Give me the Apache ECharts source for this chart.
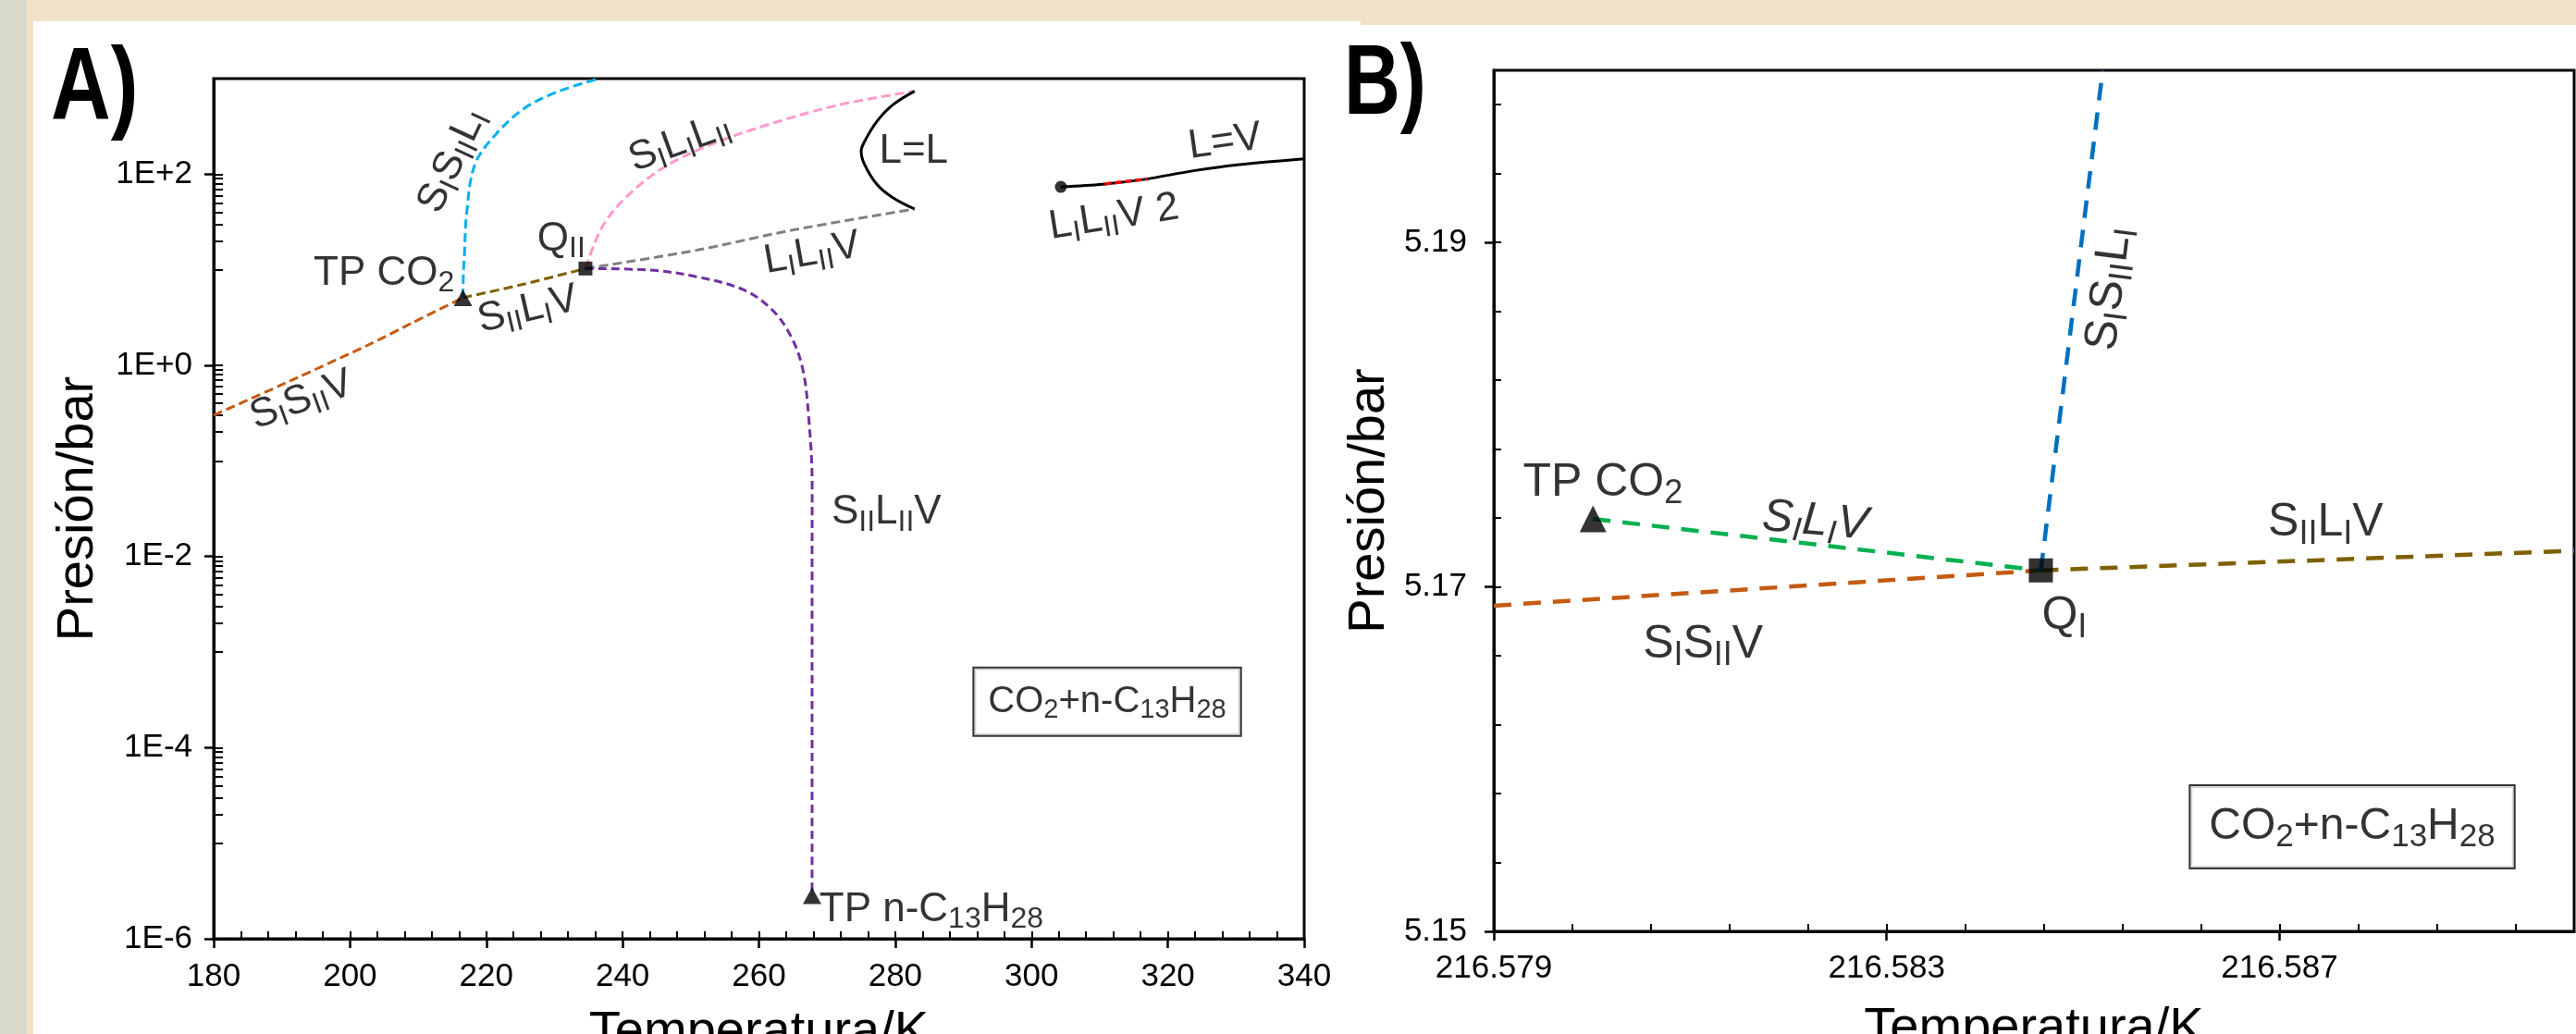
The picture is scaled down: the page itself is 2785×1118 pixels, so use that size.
<!DOCTYPE html>
<html lang="es">
<head>
<meta charset="utf-8">
<title>CO2 + n-C13H28 diagrama de fases</title>
<script src="https://cdn.jsdelivr.net/npm/echarts@6/dist/echarts.min.js"></script>
<style>
  html, body { margin: 0; padding: 0; background: #fff; overflow: hidden; }
  #wrap { position: relative; width: 2785px; height: 1118px; background: #fff; }
  .strip { position: absolute; }
  #chart { position: absolute; left: 0; top: 0; width: 2785px; height: 1118px; }
</style>
</head>
<body>
<div id="wrap">
  <div class="strip" style="left:0;top:0;width:1471px;height:23px;background:#f2e3c8"></div>
  <div class="strip" style="left:1471px;top:0;width:1314px;height:27px;background:#f2e3c8"></div>
  <div class="strip" style="left:0;top:0;width:36px;height:1118px;background:#f2e3c8"></div>
  <div class="strip" style="left:0;top:0;width:29px;height:1118px;background:#d8d9c8"></div>
  <div id="chart"></div>
</div>
<script>
/* Diagrama P-T de CO2 + n-C13H28.
 * A) vista global (presión en escala log), B) zoom alrededor del punto cuádruple Q_I.
 * Temperaturas en K, presiones en bar, leídas del diagrama original. */

const FONT = '"Liberation Sans", Arial, sans-serif';

// ── Panel A: curvas (T/K, P/bar) ──
const aSsvT  = [180.0, 191.1, 203.2, 209.2, 216.58];                 // S_I S_II V
const aSsvP  = [0.30, 0.68, 1.70, 2.80, 5.10];
const aSlvT  = [216.58, 225.6, 234.55];                               // S_II L_I V
const aSlvP  = [5.10, 7.10, 10.3];
const aSslT  = [216.58, 216.62, 216.80, 217.11, 218.32, 221.35, 225.60, 230.44, 236.49]; // S_I S_II L_I
const aSslP  = [5.10, 8.3, 14.8, 38.4, 126, 259, 490, 728, 1000];
const aSllT  = [234.55, 236.99, 240.46, 245.99, 252.93, 261.23, 271.61, 282.84]; // S_I L_I L_II
const aSllP  = [10.3, 27.9, 57.0, 117, 204, 328, 528, 738];
const aLlvT  = [234.55, 250.84, 264.68, 282.84];                      // L_I L_II V
const aLlvP  = [10.3, 16.0, 25.8, 43.2];
const aLeqLT = [282.84, 279.6, 277.3, 275.5, 275.0, 275.5, 277.3, 279.6, 282.84]; // L=L
const aLeqLP = [738, 528, 356, 220, 174, 126, 78.3, 57.0, 43.2];
const aS2lvT = [234.55, 243.91, 250.84, 257.77, 261.92, 264.69, 266.43, 267.32, 267.81, 267.80, 267.80, 267.80]; // S_II L_II V
const aS2lvP = [10.3, 9.93, 8.46, 6.15, 3.82, 2.02, 0.912, 0.277, 0.0564, 6.7e-3, 1.2e-4, 2.82e-6];
const aLeqVT = [304.30, 310.38, 316.63, 323.55, 330.47, 340.0];       // L=V
const aLeqVP = [73.6, 78.3, 88.4, 108, 126, 145];
const aLlv2T = [310.73, 316.96];                                      // L_I L_II V 2
const aLlv2P = [79.0, 89.0];

// puntos singulares A
const aTriT = [216.58, 267.80];   // TP CO2, TP n-C13H28
const aTriP = [5.10, 2.82e-6];
const aQuadT = [234.55];          // Q_II
const aQuadP = [10.3];
const aCritT = [304.30];          // punto crítico
const aCritP = [73.6];

// ejes A
const aTempTicks = [180, 200, 220, 240, 260, 280, 300, 320, 340];
const aPresExp   = [-6, -4, -2, 0, 2];   // 1E-6 ... 1E+2

// rótulos A
const aLabelText = ['S_{I}S_{II}L_{I}', 'TP CO_{2}', 'S_{II}L_{I}V', 'S_{I}S_{II}V', 'Q_{II}', 'S_{I}L_{I}L_{II}',
                    'L=L', 'L_{I}L_{II}V', 'L=V', 'L_{I}L_{II}V 2', 'S_{II}L_{II}V', 'TP n-C_{13}H_{28}'];
const aLabelT = [215.0, 205.0, 226.1, 192.9, 231.0, 248.4, 282.7, 267.8, 328.4, 312.1, 278.7, 285.3];
const aLabelP = [138, 9.16, 3.82, 0.43, 20.7, 212, 174, 14.8, 217, 35.4, 0.0287, 2.02e-6];
const aBoxT = 311.1, aBoxP = 3.02e-4;

// ── Panel B: zoom en Q_I ──
const bSsvT  = [216.5790, 216.58457];   // S_I S_II V
const bSsvP  = [5.16891, 5.17096];
const bSlvT  = [216.58001, 216.58457];  // S_I L_I V
const bSlvP  = [5.17395, 5.17096];
const bS2lvT = [216.58457, 216.5900];   // S_II L_I V
const bS2lvP = [5.17096, 5.17210];
const bSslT  = [216.58457, 216.58520];  // S_I S_II L_I
const bSslP  = [5.17096, 5.2000];

const bTriT = [216.58001], bTriP = [5.17395];    // TP CO2
const bQuadT = [216.58457], bQuadP = [5.17096];  // Q_I

const bTempTicks = [216.579, 216.583, 216.587];
const bPresTicks = [5.15, 5.17, 5.19];

const bLabelText = ['TP CO_{2}', 'S_{I}L_{I}V', 'S_{II}L_{I}V', 'S_{I}S_{II}V', 'Q_{I}', 'S_{I}S_{II}L_{I}'];
const bLabelT = [216.58011, 216.58227, 216.58747, 216.58113, 216.58481, 216.58527];
const bLabelP = [5.17605, 5.17380, 5.17370, 5.16662, 5.16828, 5.18732];
const bBoxT = 216.58774, bBoxP = 5.15607;

// ── helpers ──
const lg = Math.log10;
function ptsA(ts, ps) { return ts.map((t, i) => [t, lg(ps[i])]); }
function ptsB(ts, ps) { return ts.map((t, i) => [t, ps[i]]); }

// "S_{I}L_{I}V" → rich text con subíndices
function richText(s) {
  return s.split(/(_\{[^}]*\})/).filter(Boolean)
    .map((p) => p[0] === '_' ? '{s|' + p.slice(2, -1) + '}' : '{n|' + p + '}').join('');
}
function richStyles(F, italic) {
  const st = italic ? 'italic' : 'normal';
  return {
    n: { fontSize: F, lineHeight: Math.round(F * 1.2), fontFamily: FONT, color: '#000', fontStyle: st },
    s: { fontSize: Math.round(F * 0.72), lineHeight: Math.round(F * 0.68), fontFamily: FONT, color: '#000', fontStyle: st, verticalAlign: 'bottom' },
  };
}

function line(xi, data, color, width, dash, smooth) {
  return {
    type: 'line', xAxisIndex: xi, yAxisIndex: xi, data,
    showSymbol: false, symbol: 'none', smooth: smooth || false, silent: true, z: 3,
    lineStyle: { color, width, type: dash || 'solid', cap: 'butt' },
  };
}
function marker(xi, data, symbol, size) {
  return {
    type: 'scatter', xAxisIndex: xi, yAxisIndex: xi, data, symbol, symbolSize: size,
    itemStyle: { color: '#000' }, silent: true, z: 6,
  };
}
function labels(xi, pts, texts, rots, F, italics) {
  return {
    type: 'scatter', xAxisIndex: xi, yAxisIndex: xi, symbolSize: 1, silent: true, z: 10,
    itemStyle: { color: 'rgba(0,0,0,0)' },
    data: texts.map((t, i) => ({
      value: pts[i],
      label: {
        show: true, position: 'inside', rotate: rots[i],
        formatter: richText(t), rich: richStyles(F, italics && italics[i]),
      },
    })),
  };
}
function boxLabel(xi, pt, F, pad) {
  return {
    type: 'scatter', xAxisIndex: xi, yAxisIndex: xi, symbolSize: 1, silent: true, z: 10,
    itemStyle: { color: 'rgba(0,0,0,0)' },
    data: [{
      value: pt,
      label: {
        show: true, position: 'inside', formatter: richText('CO_{2}+n-C_{13}H_{28}'), rich: richStyles(F),
        backgroundColor: '#fff', borderColor: '#000', borderWidth: 2, padding: pad,
      },
    }],
  };
}

// ── ejes ──
const TICK = { color: '#000', width: 2.5 };
const LBL = { color: '#000', fontSize: 35, fontFamily: FONT };
const NAME = { color: '#000', fontSize: 56, fontFamily: FONT };

function majorAxis(grid, min, max, ticks, fmt, margin, name, gap) {
  return {
    type: 'value', gridIndex: grid, min, max,
    axisLine: { show: true, onZero: false, lineStyle: { color: '#000', width: 3 } },
    axisTick: { show: true, inside: false, length: 10, lineStyle: TICK, customValues: ticks },
    axisLabel: { show: true, margin, formatter: fmt, customValues: ticks, ...LBL },
    splitLine: { show: false },
    name, nameLocation: 'middle', nameGap: gap, nameTextStyle: NAME,
  };
}
function minorAxis(grid, min, max, ticks, len) {
  return {
    type: 'value', gridIndex: grid, min, max,
    axisLine: { show: false, onZero: false },
    axisTick: { show: true, inside: true, length: len, lineStyle: { color: '#000', width: 2 }, customValues: ticks },
    axisLabel: { show: false },
    splitLine: { show: false },
  };
}

// menores A: 4 K; presión 10,20,...,90 × 100^n
const aTempMinor = [];
for (let t = 180; t <= 340; t += 4) aTempMinor.push(t);
const aPresMinor = aPresExp.slice();
aPresExp.forEach((e) => { for (let k = 1; k <= 9; k++) { const v = e + 1 + lg(k); if (v <= 3) aPresMinor.push(v); } });
// menores B: 0.0008 K; 0.004 bar
const bTempMinor = [], bPresMinor = [];
for (let i = 0; i <= 13; i++) bTempMinor.push(216.579 + 0.0008 * i);
for (let i = 0; i <= 12; i++) bPresMinor.push(5.15 + 0.004 * i);

const fmtExp = (v) => '1E' + (v >= 0 ? '+' : '') + Math.round(v);

const xAxisA = majorAxis(0, 180, 340, aTempTicks, (v) => String(v), 24, 'Temperatura/K', 74);
const yAxisA = majorAxis(0, -6, 3, aPresExp, fmtExp, 23, 'Presión/bar', 118);
const xAxisB = majorAxis(1, 216.579, 216.590, bTempTicks, (v) => v.toFixed(3), 23, 'Temperatura/K', 78);
const yAxisB = majorAxis(1, 5.15, 5.20, bPresTicks, (v) => v.toFixed(2), 29, 'Presión/bar', 106);
[xAxisA, xAxisB].forEach((a) => { a.position = 'bottom'; });
[yAxisA, yAxisB].forEach((a) => { a.position = 'left'; });

const xMinA = minorAxis(0, 180, 340, aTempMinor, 8);  xMinA.position = 'bottom';
const yMinA = minorAxis(0, -6, 3, aPresMinor, 10);    yMinA.position = 'left';
const xMinB = minorAxis(1, 216.579, 216.590, bTempMinor, 8); xMinB.position = 'bottom';
const yMinB = minorAxis(1, 5.15, 5.20, bPresMinor, 8);       yMinB.position = 'left';

// índices: 0 = A, 1 = A menor, 2 = B, 3 = B menor
const DA = [10, 5], DB = [19, 13];

const series = [
  // Panel A
  line(0, ptsA(aSsvT, aSsvP), '#c55a11', 3, DA, 0.2),
  line(0, ptsA(aSlvT, aSlvP), '#7f6000', 3, DA, 0.3),
  line(0, ptsA(aSslT, aSslP), '#00b0f0', 3, DA, 0.35),
  line(0, ptsA(aSllT, aSllP), '#ff99cc', 3, DA, 0.35),
  line(0, ptsA(aLlvT, aLlvP), '#808080', 3, DA, 0.3),
  line(0, ptsA(aS2lvT, aS2lvP), '#7030a0', 3, [9, 5], 0.35),
  line(0, ptsA(aLeqLT, aLeqLP), '#000', 3, 'solid', 0.4),
  line(0, ptsA(aLeqVT, aLeqVP), '#000', 3, 'solid', 0.3),
  line(0, ptsA(aLlv2T, aLlv2P), '#ff0000', 3.5, [7, 4]),
  marker(0, ptsA(aTriT, aTriP), 'triangle', [20, 18]),
  marker(0, ptsA(aQuadT, aQuadP), 'rect', 15),
  marker(0, ptsA(aCritT, aCritP), 'circle', 13),
  labels(0, ptsA(aLabelT, aLabelP), aLabelText, [65, 0, 13, 20, 0, 20, 0, 10, 8, 9, 0, 0], 44),
  boxLabel(0, [aBoxT, lg(aBoxP)], 40, [12, 15]),
  // Panel B
  line(2, ptsB(bSsvT, bSsvP), '#c55a11', 4.5, DB),
  line(2, ptsB(bSlvT, bSlvP), '#00b050', 4.5, DB),
  line(2, ptsB(bS2lvT, bS2lvP), '#7f6000', 4.5, DB),
  line(2, ptsB(bSslT, bSslP), '#0070c0', 4.5, DB),
  marker(2, ptsB(bTriT, bTriP), 'triangle', [29, 29]),
  marker(2, ptsB(bQuadT, bQuadP), 'rect', 26),
  labels(2, ptsB(bLabelT, bLabelP), bLabelText, [0, -5, 0, 0, 0, 83], 50, [false, true, false, false, false, false]),
  boxLabel(2, [bBoxT, bBoxP], 48, [15, 20]),
];

const chart = echarts.init(document.getElementById('chart'), null, { renderer: 'canvas' });
chart.setOption({
  backgroundColor: 'transparent',
  animation: false,
  textStyle: { fontFamily: FONT },
  grid: [
    { left: 231, top: 85, width: 1179, height: 930, outerBoundsMode: 'none', containLabel: false,
      show: true, borderColor: '#000', borderWidth: 3, backgroundColor: 'transparent' },
    { left: 1615, top: 76, width: 1168, height: 931, outerBoundsMode: 'none', containLabel: false,
      show: true, borderColor: '#000', borderWidth: 3, backgroundColor: 'transparent' },
  ],
  xAxis: [xAxisA, xMinA, xAxisB, xMinB],
  yAxis: [yAxisA, yMinA, yAxisB, yMinB],
  graphic: [
    { type: 'text', x: 55, y: 98, scaleX: 0.8, z: 20,
      style: { text: 'A)', font: 'bold 112px "Liberation Sans", Arial, sans-serif', fill: '#000', align: 'left', verticalAlign: 'middle' } },
    { type: 'text', x: 1453, y: 93, scaleX: 0.78, z: 20,
      style: { text: 'B)', font: 'bold 108px "Liberation Sans", Arial, sans-serif', fill: '#000', align: 'left', verticalAlign: 'middle' } },
  ],
  series,
});
</script>
</body>
</html>
